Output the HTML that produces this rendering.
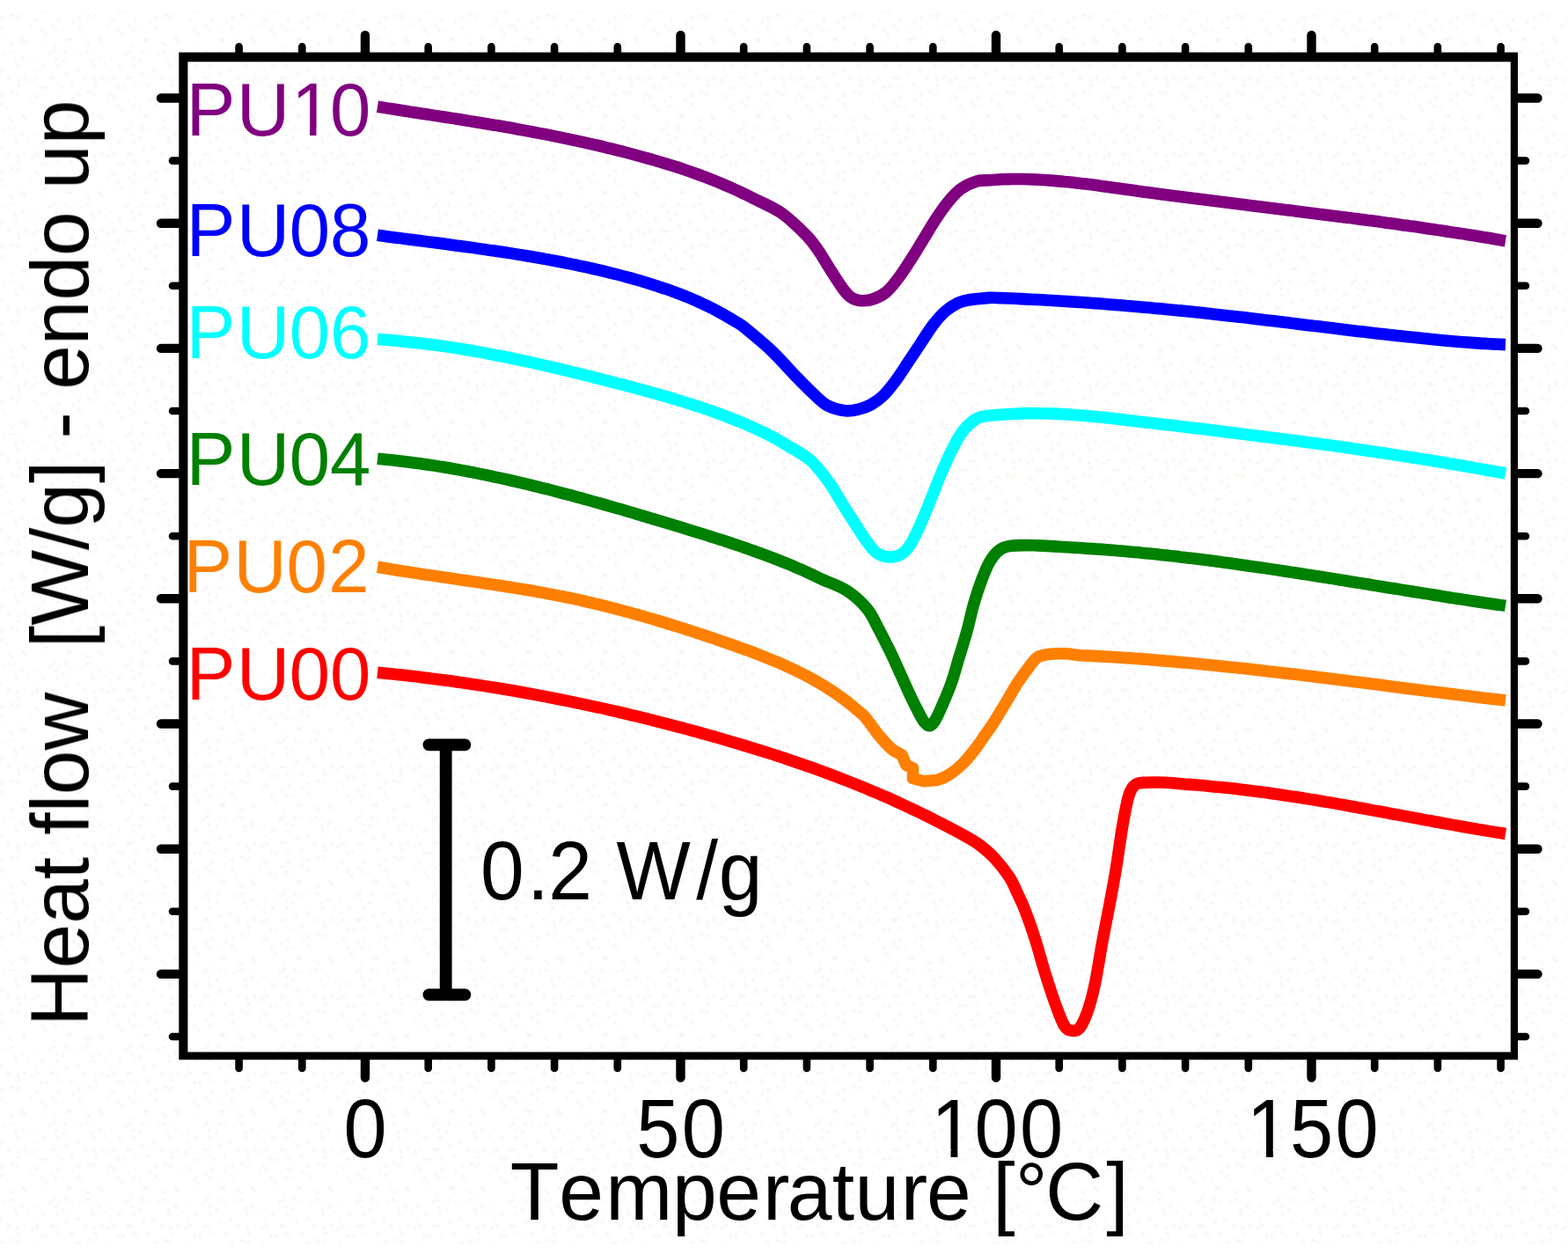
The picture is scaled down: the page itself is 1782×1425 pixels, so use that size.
<!DOCTYPE html>
<html lang="en"><head><meta charset="utf-8"><title>DSC heat flow curves PU00-PU10</title>
<style>
html,body{margin:0;padding:0;background:#fff;}
body{width:1782px;height:1425px;overflow:hidden;}
svg{display:block;}
text{font-family:"Liberation Sans",sans-serif;}
</style></head><body>
<svg width="1782" height="1425" viewBox="0 0 1782 1425">
<defs>
<filter id="soft" x="-2%" y="-2%" width="104%" height="104%"><feGaussianBlur stdDeviation="0.55"/></filter>
<filter id="dsoft" x="0" y="0" width="100%" height="100%"><feGaussianBlur stdDeviation="0.9"/></filter>
<pattern id="dith" width="87" height="87" patternUnits="userSpaceOnUse"><g opacity="0.22"><rect x="8.2" y="0.0" width="2.7" height="2.7" fill="#c9a9c9"/><rect x="19.0" y="2.7" width="2.7" height="2.7" fill="#c9a9c9"/><rect x="27.2" y="0.0" width="2.7" height="2.7" fill="#c9a9c9"/><rect x="35.4" y="2.7" width="2.7" height="2.7" fill="#c9a9c9"/><rect x="40.8" y="0.0" width="2.7" height="2.7" fill="#c9a9c9"/><rect x="57.1" y="0.0" width="2.7" height="2.7" fill="#c9a9c9"/><rect x="59.8" y="0.0" width="2.7" height="2.7" fill="#f2c79a"/><rect x="62.6" y="0.0" width="2.7" height="2.7" fill="#9fe8ee"/><rect x="20.4" y="8.2" width="2.7" height="2.7" fill="#c9a9c9"/><rect x="31.3" y="5.4" width="2.7" height="2.7" fill="#e6f29a"/><rect x="63.9" y="8.2" width="2.7" height="2.7" fill="#f2c79a"/><rect x="80.2" y="8.2" width="2.7" height="2.7" fill="#c9a9c9"/><rect x="46.2" y="10.9" width="2.7" height="2.7" fill="#c9a9c9"/><rect x="51.7" y="10.9" width="2.7" height="2.7" fill="#c9a9c9"/><rect x="68.0" y="10.9" width="2.7" height="2.7" fill="#9fe8ee"/><rect x="1.4" y="19.0" width="2.7" height="2.7" fill="#c9a9c9"/><rect x="12.2" y="16.3" width="2.7" height="2.7" fill="#c9a9c9"/><rect x="15.0" y="16.3" width="2.7" height="2.7" fill="#e6f29a"/><rect x="17.7" y="19.0" width="2.7" height="2.7" fill="#f2c79a"/><rect x="20.4" y="16.3" width="2.7" height="2.7" fill="#f2c79a"/><rect x="36.7" y="19.0" width="2.7" height="2.7" fill="#9fe8ee"/><rect x="83.0" y="19.0" width="2.7" height="2.7" fill="#e6f29a"/><rect x="40.8" y="21.8" width="2.7" height="2.7" fill="#c9a9c9"/><rect x="65.3" y="21.8" width="2.7" height="2.7" fill="#c9a9c9"/><rect x="81.6" y="24.5" width="2.7" height="2.7" fill="#c9a9c9"/><rect x="1.4" y="29.9" width="2.7" height="2.7" fill="#c9a9c9"/><rect x="34.0" y="27.2" width="2.7" height="2.7" fill="#f2c79a"/><rect x="58.5" y="27.2" width="2.7" height="2.7" fill="#c9a9c9"/><rect x="5.4" y="35.4" width="2.7" height="2.7" fill="#9fe8ee"/><rect x="21.8" y="32.6" width="2.7" height="2.7" fill="#e6f29a"/><rect x="46.2" y="32.6" width="2.7" height="2.7" fill="#c9a9c9"/><rect x="62.6" y="32.6" width="2.7" height="2.7" fill="#c9a9c9"/><rect x="65.3" y="32.6" width="2.7" height="2.7" fill="#e6f29a"/><rect x="70.7" y="32.6" width="2.7" height="2.7" fill="#9fe8ee"/><rect x="50.3" y="38.1" width="2.7" height="2.7" fill="#c9a9c9"/><rect x="8.2" y="46.2" width="2.7" height="2.7" fill="#9fe8ee"/><rect x="24.5" y="43.5" width="2.7" height="2.7" fill="#c9a9c9"/><rect x="27.2" y="46.2" width="2.7" height="2.7" fill="#c9a9c9"/><rect x="76.2" y="43.5" width="2.7" height="2.7" fill="#c9a9c9"/><rect x="78.9" y="43.5" width="2.7" height="2.7" fill="#c9a9c9"/><rect x="12.2" y="49.0" width="2.7" height="2.7" fill="#c9a9c9"/><rect x="47.6" y="49.0" width="2.7" height="2.7" fill="#e6f29a"/><rect x="61.2" y="51.7" width="2.7" height="2.7" fill="#9fe8ee"/><rect x="10.9" y="57.1" width="2.7" height="2.7" fill="#c9a9c9"/><rect x="16.3" y="57.1" width="2.7" height="2.7" fill="#e6f29a"/><rect x="59.8" y="57.1" width="2.7" height="2.7" fill="#c9a9c9"/><rect x="73.4" y="57.1" width="2.7" height="2.7" fill="#c9a9c9"/><rect x="4.1" y="59.8" width="2.7" height="2.7" fill="#f2c79a"/><rect x="23.1" y="62.6" width="2.7" height="2.7" fill="#e6f29a"/><rect x="55.8" y="59.8" width="2.7" height="2.7" fill="#c9a9c9"/><rect x="66.6" y="59.8" width="2.7" height="2.7" fill="#e6f29a"/><rect x="74.8" y="59.8" width="2.7" height="2.7" fill="#e6f29a"/><rect x="80.2" y="59.8" width="2.7" height="2.7" fill="#9fe8ee"/><rect x="16.3" y="68.0" width="2.7" height="2.7" fill="#c9a9c9"/><rect x="24.5" y="65.3" width="2.7" height="2.7" fill="#c9a9c9"/><rect x="38.1" y="65.3" width="2.7" height="2.7" fill="#9fe8ee"/><rect x="62.6" y="65.3" width="2.7" height="2.7" fill="#c9a9c9"/><rect x="70.7" y="68.0" width="2.7" height="2.7" fill="#c9a9c9"/><rect x="17.7" y="73.4" width="2.7" height="2.7" fill="#c9a9c9"/><rect x="31.3" y="70.7" width="2.7" height="2.7" fill="#9fe8ee"/><rect x="47.6" y="73.4" width="2.7" height="2.7" fill="#c9a9c9"/><rect x="63.9" y="73.4" width="2.7" height="2.7" fill="#c9a9c9"/><rect x="0.0" y="78.9" width="2.7" height="2.7" fill="#c9a9c9"/><rect x="38.1" y="78.9" width="2.7" height="2.7" fill="#9fe8ee"/><rect x="74.8" y="81.6" width="2.7" height="2.7" fill="#c9a9c9"/></g></pattern>
</defs>
<rect x="0" y="0" width="1782" height="1425" fill="#fff"/>
<rect x="0" y="12" width="1782" height="1402" fill="url(#dith)" filter="url(#dsoft)"/>
<g filter="url(#soft)">
<path d="M203.3 59.5H1725V1204.3H203.3Z M213.4 70.3V1195.5H1716.8V70.3Z" fill="#000" fill-rule="evenodd"/>
<g stroke="#000" stroke-linecap="round" fill="none">
<path stroke-width="10.4" d="M415.0 64.6 V40.0 M415.0 1200.9 V1224.5 M773.5 64.6 V40.0 M773.5 1200.9 V1224.5 M1132.0 64.6 V40.0 M1132.0 1200.9 V1224.5 M1490.5 64.6 V40.0 M1490.5 1200.9 V1224.5 M207.8 111.5 H183.0 M1722.3 111.5 H1747.5 M207.8 253.7 H183.0 M1722.3 253.7 H1747.5 M207.8 395.9 H183.0 M1722.3 395.9 H1747.5 M207.8 538.1 H183.0 M1722.3 538.1 H1747.5 M207.8 680.3 H183.0 M1722.3 680.3 H1747.5 M207.8 822.5 H183.0 M1722.3 822.5 H1747.5 M207.8 964.7 H183.0 M1722.3 964.7 H1747.5 M207.8 1106.9 H183.0 M1722.3 1106.9 H1747.5"/>
<path stroke-width="8.6" d="M271.6 64.6 V53.0 M271.6 1200.9 V1214.0 M343.3 64.6 V53.0 M343.3 1200.9 V1214.0 M486.7 64.6 V53.0 M486.7 1200.9 V1214.0 M558.4 64.6 V53.0 M558.4 1200.9 V1214.0 M630.1 64.6 V53.0 M630.1 1200.9 V1214.0 M701.8 64.6 V53.0 M701.8 1200.9 V1214.0 M845.2 64.6 V53.0 M845.2 1200.9 V1214.0 M916.9 64.6 V53.0 M916.9 1200.9 V1214.0 M988.6 64.6 V53.0 M988.6 1200.9 V1214.0 M1060.3 64.6 V53.0 M1060.3 1200.9 V1214.0 M1203.7 64.6 V53.0 M1203.7 1200.9 V1214.0 M1275.4 64.6 V53.0 M1275.4 1200.9 V1214.0 M1347.1 64.6 V53.0 M1347.1 1200.9 V1214.0 M1418.8 64.6 V53.0 M1418.8 1200.9 V1214.0 M1562.2 64.6 V53.0 M1562.2 1200.9 V1214.0 M1633.9 64.6 V53.0 M1633.9 1200.9 V1214.0 M1705.6 64.6 V53.0 M1705.6 1200.9 V1214.0 M207.8 182.6 H196.0 M1722.3 182.6 H1734.0 M207.8 324.8 H196.0 M1722.3 324.8 H1734.0 M207.8 467.0 H196.0 M1722.3 467.0 H1734.0 M207.8 609.2 H196.0 M1722.3 609.2 H1734.0 M207.8 751.4 H196.0 M1722.3 751.4 H1734.0 M207.8 893.6 H196.0 M1722.3 893.6 H1734.0 M207.8 1035.8 H196.0 M1722.3 1035.8 H1734.0 M207.8 1178.0 H196.0 M1722.3 1178.0 H1734.0"/>
</g>
<g stroke="#000" stroke-width="13.8" fill="none">
<path d="M506.7 846.3 V1130.3"/>
<path d="M487.4 846.3 H528.4 M487.4 1130.3 H528.4" stroke-linecap="round"/>
</g>
<g fill="none" stroke-width="13.6" stroke-linejoin="round" stroke-linecap="butt">
<path stroke="#800080" d="M429.0 121.2 C431.0 121.5 437.1 122.5 441.1 123.1 C445.1 123.7 449.2 124.4 453.2 125.0 C457.2 125.6 461.3 126.2 465.3 126.9 C469.4 127.5 473.4 128.1 477.4 128.7 C481.5 129.4 485.5 130.0 489.5 130.6 C493.6 131.2 497.6 131.9 501.6 132.5 C505.7 133.1 509.7 133.7 513.8 134.4 C517.8 135.0 521.8 135.7 525.9 136.3 C529.9 137.0 533.9 137.6 538.0 138.3 C542.0 138.9 546.0 139.6 550.0 140.2 C554.1 140.9 558.1 141.6 562.1 142.3 C566.2 142.9 570.2 143.6 574.2 144.3 C578.2 145.0 582.3 145.7 586.3 146.5 C590.3 147.2 594.3 147.9 598.3 148.6 C602.3 149.4 606.4 150.1 610.4 150.9 C614.4 151.6 618.4 152.4 622.4 153.2 C626.4 154.0 630.4 154.8 634.4 155.6 C638.4 156.4 642.4 157.2 646.4 158.1 C650.4 158.9 654.4 159.8 658.4 160.6 C662.4 161.5 666.4 162.4 670.4 163.3 C674.4 164.2 678.3 165.1 682.3 166.0 C686.3 167.0 690.3 167.9 694.2 168.9 C698.2 169.9 702.2 170.9 706.1 171.9 C710.1 172.9 714.0 173.9 718.0 175.0 C721.9 176.0 725.9 177.1 729.8 178.2 C733.7 179.3 737.7 180.4 741.6 181.5 C745.5 182.6 749.4 183.8 753.3 185.0 C757.2 186.2 761.1 187.4 765.0 188.6 C768.9 189.8 772.8 191.1 776.7 192.4 C780.6 193.7 784.4 195.0 788.3 196.4 C792.1 197.8 796.0 199.2 799.8 200.6 C803.6 202.0 807.4 203.5 811.2 205.0 C815.0 206.5 818.8 208.1 822.5 209.7 C826.3 211.3 830.0 212.9 833.8 214.6 C837.5 216.3 841.2 218.0 844.9 219.8 C848.5 221.6 848.6 221.6 855.8 225.3 C863.0 229.0 878.0 235.0 888.0 242.0 C898.0 249.0 909.0 259.9 916.0 267.0 C923.0 274.1 925.3 277.9 930.0 284.6 C934.7 291.3 939.3 299.7 944.0 307.0 C948.7 314.3 954.3 323.3 958.3 328.6 C962.3 333.9 964.5 336.4 968.0 338.6 C971.5 340.8 975.3 341.7 979.5 341.8 C983.7 341.9 988.8 341.2 993.4 339.5 C998.0 337.8 1002.7 335.8 1007.4 331.8 C1012.1 327.8 1016.7 321.7 1021.4 315.5 C1026.1 309.3 1030.8 301.8 1035.5 294.5 C1040.2 287.2 1044.8 279.4 1049.5 271.8 C1054.2 264.2 1058.8 256.1 1063.5 249.0 C1068.2 241.9 1072.9 235.0 1077.6 229.3 C1082.3 223.6 1086.2 218.9 1091.6 215.0 C1097.0 211.1 1104.3 207.7 1110.0 206.0 C1115.7 204.3 1121.3 205.1 1126.0 204.7 C1130.6 204.4 1134.0 204.0 1138.0 203.8 C1142.0 203.6 1146.0 203.6 1150.0 203.5 C1154.0 203.5 1158.0 203.5 1162.0 203.5 C1166.0 203.6 1170.1 203.7 1174.1 203.9 C1178.1 204.1 1182.1 204.3 1186.1 204.5 C1190.1 204.8 1194.1 205.1 1198.1 205.4 C1202.1 205.7 1206.1 206.1 1210.1 206.5 C1214.1 206.8 1218.1 207.3 1222.0 207.7 C1226.0 208.1 1230.0 208.6 1234.0 209.1 C1238.0 209.6 1242.0 210.1 1245.9 210.6 C1249.9 211.1 1253.9 211.7 1257.9 212.2 C1261.8 212.7 1265.8 213.3 1269.8 213.8 C1273.8 214.4 1277.7 214.9 1281.7 215.5 C1285.7 216.1 1289.7 216.6 1293.6 217.2 C1297.6 217.7 1301.6 218.2 1305.6 218.8 C1309.5 219.3 1313.5 219.9 1317.5 220.4 C1321.5 220.9 1325.4 221.4 1329.4 222.0 C1333.4 222.5 1337.4 223.0 1341.3 223.5 C1345.3 224.0 1349.3 224.6 1353.3 225.1 C1357.3 225.6 1361.2 226.1 1365.2 226.6 C1369.2 227.1 1373.2 227.6 1377.2 228.1 C1381.1 228.6 1385.1 229.1 1389.1 229.6 C1393.1 230.1 1397.1 230.6 1401.0 231.1 C1405.0 231.6 1409.0 232.1 1413.0 232.6 C1417.0 233.1 1421.0 233.5 1424.9 234.0 C1428.9 234.5 1432.9 235.0 1436.9 235.5 C1440.9 236.0 1444.8 236.5 1448.8 237.0 C1452.8 237.5 1456.8 238.0 1460.8 238.5 C1464.8 238.9 1468.7 239.4 1472.7 239.9 C1476.7 240.4 1480.7 240.9 1484.7 241.4 C1488.6 241.9 1492.6 242.4 1496.6 242.9 C1500.6 243.4 1504.6 243.9 1508.5 244.4 C1512.5 244.9 1516.5 245.4 1520.5 245.9 C1524.5 246.4 1528.4 246.9 1532.4 247.4 C1536.4 248.0 1540.4 248.5 1544.4 249.0 C1548.3 249.5 1552.3 250.0 1556.3 250.6 C1560.3 251.1 1564.2 251.6 1568.2 252.1 C1572.2 252.7 1576.2 253.2 1580.1 253.8 C1584.1 254.3 1588.1 254.9 1592.1 255.4 C1596.0 256.0 1600.0 256.5 1604.0 257.1 C1608.0 257.6 1611.9 258.2 1615.9 258.8 C1619.9 259.4 1623.8 259.9 1627.8 260.5 C1631.8 261.1 1635.7 261.7 1639.7 262.3 C1643.7 262.9 1647.6 263.5 1651.6 264.1 C1655.6 264.7 1659.5 265.3 1663.5 265.9 C1667.5 266.6 1671.4 267.2 1675.4 267.8 C1679.4 268.5 1683.3 269.1 1687.3 269.8 C1691.2 270.4 1695.2 271.1 1699.1 271.8 C1703.1 272.4 1709.0 273.5 1711.0 273.8"/>
<path stroke="#0000ff" d="M429.0 267.3 C431.0 267.6 436.9 268.4 440.9 268.9 C444.9 269.4 448.9 269.9 452.8 270.4 C456.8 271.0 460.8 271.5 464.8 272.0 C468.7 272.5 472.7 273.0 476.7 273.5 C480.7 274.0 484.6 274.5 488.6 275.1 C492.6 275.6 496.6 276.1 500.5 276.6 C504.5 277.1 508.5 277.6 512.4 278.2 C516.4 278.7 520.4 279.2 524.4 279.8 C528.3 280.3 532.3 280.8 536.3 281.4 C540.2 281.9 544.2 282.5 548.2 283.1 C552.1 283.6 556.1 284.2 560.1 284.8 C564.0 285.3 568.0 285.9 572.0 286.5 C575.9 287.1 579.9 287.8 583.9 288.4 C587.8 289.0 591.8 289.6 595.7 290.3 C599.7 290.9 603.6 291.6 607.6 292.3 C611.5 293.0 615.5 293.6 619.4 294.4 C623.4 295.1 627.3 295.8 631.2 296.5 C635.2 297.3 639.1 298.0 643.0 298.8 C647.0 299.6 650.9 300.4 654.8 301.2 C658.7 302.0 662.7 302.8 666.6 303.7 C670.5 304.6 674.4 305.4 678.3 306.3 C682.2 307.2 686.1 308.2 690.0 309.1 C693.9 310.1 697.8 311.0 701.7 312.0 C705.6 313.0 709.4 314.0 713.3 315.1 C717.2 316.1 721.0 317.2 724.9 318.3 C728.7 319.4 732.6 320.6 736.4 321.7 C740.2 322.9 744.1 324.1 747.9 325.4 C751.7 326.6 755.5 327.9 759.2 329.2 C763.0 330.6 766.8 332.0 770.5 333.4 C774.3 334.8 778.0 336.3 781.7 337.8 C785.4 339.3 789.1 340.9 792.8 342.5 C796.4 344.2 800.1 345.9 803.7 347.6 C807.3 349.4 810.8 351.2 814.4 353.0 C817.9 354.9 821.5 356.8 824.9 358.8 C828.4 360.8 831.8 362.9 835.2 365.0 C838.6 367.1 838.2 365.8 845.3 371.6 C852.4 377.4 867.9 390.1 878.0 399.7 C888.1 409.3 897.8 420.9 906.0 429.3 C914.2 437.7 921.2 444.7 927.0 450.0 C932.8 455.3 935.3 458.4 941.0 461.2 C946.7 464.0 955.1 466.2 961.0 466.8 C966.9 467.4 971.4 466.2 976.3 465.0 C981.2 463.8 985.7 462.2 990.4 459.5 C995.1 456.8 999.7 453.6 1004.4 449.0 C1009.1 444.4 1013.7 438.3 1018.4 432.0 C1023.1 425.7 1027.8 418.0 1032.5 411.0 C1037.2 404.0 1041.8 397.0 1046.5 390.0 C1051.2 383.0 1055.9 375.1 1060.6 369.0 C1065.3 362.9 1069.9 357.6 1074.6 353.5 C1079.3 349.4 1084.4 346.5 1088.6 344.4 C1092.8 342.3 1094.1 342.0 1100.0 341.0 C1105.9 340.0 1118.0 338.9 1124.0 338.4 C1130.0 338.0 1132.0 338.5 1136.0 338.6 C1140.1 338.7 1144.1 338.9 1148.1 339.0 C1152.1 339.2 1156.1 339.4 1160.1 339.6 C1164.1 339.8 1168.1 340.0 1172.1 340.2 C1176.1 340.4 1180.1 340.6 1184.1 340.8 C1188.1 341.0 1192.1 341.2 1196.1 341.5 C1200.1 341.7 1204.1 342.0 1208.2 342.2 C1212.2 342.5 1216.2 342.7 1220.2 343.0 C1224.2 343.2 1228.2 343.5 1232.2 343.8 C1236.2 344.1 1240.2 344.4 1244.2 344.6 C1248.2 344.9 1252.2 345.2 1256.2 345.5 C1260.2 345.9 1264.2 346.2 1268.2 346.5 C1272.2 346.8 1276.2 347.1 1280.2 347.5 C1284.2 347.8 1288.1 348.1 1292.1 348.5 C1296.1 348.8 1300.1 349.2 1304.1 349.5 C1308.1 349.9 1312.1 350.3 1316.1 350.6 C1320.1 351.0 1324.1 351.4 1328.1 351.8 C1332.1 352.1 1336.1 352.5 1340.1 352.9 C1344.1 353.3 1348.1 353.7 1352.0 354.1 C1356.0 354.5 1360.0 354.9 1364.0 355.3 C1368.0 355.8 1372.0 356.2 1376.0 356.6 C1380.0 357.0 1384.0 357.5 1387.9 357.9 C1391.9 358.4 1395.9 358.8 1399.9 359.2 C1403.9 359.7 1407.9 360.1 1411.9 360.6 C1415.8 361.1 1419.8 361.5 1423.8 362.0 C1427.8 362.5 1431.8 362.9 1435.8 363.4 C1439.7 363.9 1443.7 364.4 1447.7 364.8 C1451.7 365.3 1455.7 365.8 1459.7 366.3 C1463.6 366.8 1467.6 367.2 1471.6 367.7 C1475.6 368.2 1479.6 368.7 1483.5 369.2 C1487.5 369.7 1491.5 370.2 1495.5 370.6 C1499.5 371.1 1503.4 371.6 1507.4 372.1 C1511.4 372.6 1515.4 373.1 1519.4 373.5 C1523.4 374.0 1527.3 374.5 1531.3 375.0 C1535.3 375.5 1539.3 375.9 1543.3 376.4 C1547.3 376.9 1551.2 377.3 1555.2 377.8 C1559.2 378.3 1563.2 378.7 1567.2 379.2 C1571.2 379.6 1575.1 380.1 1579.1 380.5 C1583.1 381.0 1587.1 381.4 1591.1 381.8 C1595.1 382.3 1599.1 382.7 1603.1 383.1 C1607.0 383.5 1611.0 383.9 1615.0 384.3 C1619.0 384.7 1623.0 385.1 1627.0 385.5 C1631.0 385.9 1635.0 386.3 1639.0 386.7 C1643.0 387.0 1647.0 387.4 1651.0 387.7 C1655.0 388.1 1659.0 388.4 1663.0 388.7 C1667.0 389.0 1671.0 389.3 1675.0 389.6 C1679.0 389.9 1683.0 390.2 1687.0 390.4 C1691.0 390.6 1695.0 390.9 1699.0 391.1 C1703.0 391.3 1709.0 391.5 1711.0 391.6"/>
<path stroke="#00ffff" d="M429.0 385.5 C431.0 385.6 437.1 386.1 441.1 386.4 C445.2 386.7 449.2 387.1 453.2 387.4 C457.3 387.8 461.3 388.2 465.4 388.7 C469.4 389.1 473.4 389.5 477.4 390.0 C481.5 390.5 485.5 391.0 489.5 391.5 C493.5 392.0 497.6 392.6 501.6 393.1 C505.6 393.7 509.6 394.3 513.6 394.9 C517.6 395.5 521.6 396.1 525.6 396.8 C529.6 397.5 533.6 398.1 537.6 398.8 C541.6 399.5 545.6 400.2 549.6 400.9 C553.6 401.7 557.6 402.4 561.5 403.2 C565.5 403.9 569.5 404.7 573.5 405.5 C577.5 406.3 581.4 407.1 585.4 408.0 C589.4 408.8 593.3 409.6 597.3 410.5 C601.3 411.3 605.2 412.2 609.2 413.1 C613.1 414.0 617.1 414.9 621.0 415.8 C625.0 416.7 628.9 417.6 632.9 418.5 C636.8 419.4 640.8 420.4 644.7 421.3 C648.7 422.3 652.6 423.2 656.5 424.2 C660.5 425.2 664.4 426.2 668.4 427.1 C672.3 428.1 676.2 429.1 680.1 430.1 C684.1 431.1 688.0 432.1 691.9 433.1 C695.9 434.1 699.8 435.1 703.7 436.2 C707.6 437.2 711.6 438.2 715.5 439.2 C719.4 440.3 723.3 441.3 727.2 442.4 C731.2 443.4 735.1 444.5 739.0 445.6 C742.9 446.6 746.8 447.7 750.7 448.8 C754.6 450.0 758.5 451.1 762.4 452.2 C766.3 453.4 770.1 454.5 774.0 455.7 C777.9 456.9 781.8 458.1 785.6 459.4 C789.5 460.6 793.3 461.9 797.2 463.1 C801.0 464.4 804.9 465.7 808.7 467.1 C812.5 468.4 816.3 469.8 820.1 471.2 C823.9 472.7 827.7 474.1 831.5 475.6 C835.3 477.1 839.0 478.6 842.8 480.1 C846.5 481.7 850.2 483.3 853.9 484.9 C857.7 486.6 861.3 488.3 865.0 490.0 C868.7 491.8 872.3 493.6 875.9 495.4 C879.5 497.3 883.1 499.2 886.6 501.3 C890.1 503.3 891.2 504.0 897.0 507.6 C902.7 511.2 913.5 516.3 921.0 523.0 C928.5 529.7 936.2 540.1 942.0 548.0 C947.8 555.9 951.3 562.9 956.0 570.3 C960.7 577.7 965.3 585.2 970.0 592.5 C974.7 599.8 979.8 607.9 984.0 613.8 C988.2 619.6 991.2 624.4 995.5 627.6 C999.8 630.8 1004.8 632.6 1009.5 633.0 C1014.2 633.4 1019.3 632.6 1023.5 630.2 C1027.7 627.8 1031.0 624.1 1034.8 618.4 C1038.5 612.7 1042.3 604.2 1046.0 596.0 C1049.7 587.8 1053.5 578.5 1057.2 569.3 C1060.9 560.1 1064.7 549.9 1068.4 541.0 C1072.2 532.1 1076.0 523.5 1079.7 515.8 C1083.5 508.1 1087.2 500.5 1090.9 494.8 C1094.6 489.1 1097.5 485.2 1102.0 481.6 C1106.5 478.0 1107.8 475.2 1117.6 473.2 C1127.4 471.2 1151.5 470.4 1160.7 469.9 C1169.9 469.3 1168.8 469.7 1172.8 469.7 C1176.8 469.6 1180.8 469.7 1184.9 469.8 C1188.9 469.8 1192.9 470.0 1196.9 470.1 C1200.9 470.3 1205.0 470.5 1209.0 470.7 C1213.0 471.0 1217.0 471.2 1221.0 471.5 C1225.0 471.8 1229.0 472.2 1233.0 472.5 C1237.0 472.9 1241.0 473.2 1245.1 473.6 C1249.1 474.0 1253.1 474.4 1257.1 474.8 C1261.1 475.3 1265.0 475.7 1269.0 476.1 C1273.0 476.6 1277.0 477.0 1281.0 477.5 C1285.0 477.9 1289.0 478.4 1293.0 478.9 C1297.0 479.3 1301.0 479.8 1305.0 480.3 C1309.0 480.7 1313.0 481.2 1317.0 481.7 C1321.0 482.1 1325.0 482.6 1329.0 483.1 C1333.0 483.5 1337.0 484.0 1340.9 484.5 C1344.9 484.9 1348.9 485.4 1352.9 485.9 C1356.9 486.4 1360.9 486.8 1364.9 487.3 C1368.9 487.8 1372.9 488.3 1376.9 488.8 C1380.9 489.2 1384.9 489.7 1388.9 490.2 C1392.8 490.7 1396.8 491.2 1400.8 491.7 C1404.8 492.2 1408.8 492.7 1412.8 493.2 C1416.8 493.7 1420.8 494.2 1424.8 494.7 C1428.8 495.2 1432.8 495.7 1436.7 496.2 C1440.7 496.7 1444.7 497.2 1448.7 497.7 C1452.7 498.2 1456.7 498.7 1460.7 499.3 C1464.7 499.8 1468.6 500.3 1472.6 500.8 C1476.6 501.4 1480.6 501.9 1484.6 502.4 C1488.6 503.0 1492.6 503.5 1496.5 504.0 C1500.5 504.6 1504.5 505.1 1508.5 505.7 C1512.5 506.2 1516.5 506.8 1520.4 507.3 C1524.4 507.9 1528.4 508.5 1532.4 509.0 C1536.4 509.6 1540.4 510.2 1544.3 510.7 C1548.3 511.3 1552.3 511.9 1556.3 512.5 C1560.2 513.1 1564.2 513.7 1568.2 514.3 C1572.2 514.9 1576.2 515.4 1580.1 516.1 C1584.1 516.7 1588.1 517.3 1592.1 517.9 C1596.0 518.5 1600.0 519.1 1604.0 519.7 C1607.9 520.4 1611.9 521.0 1615.9 521.6 C1619.9 522.3 1623.8 522.9 1627.8 523.5 C1631.8 524.2 1635.7 524.8 1639.7 525.5 C1643.7 526.2 1647.6 526.8 1651.6 527.5 C1655.6 528.2 1659.5 528.8 1663.5 529.5 C1667.5 530.2 1671.4 530.9 1675.4 531.6 C1679.3 532.3 1683.3 533.0 1687.3 533.7 C1691.2 534.4 1695.2 535.1 1699.1 535.8 C1703.1 536.5 1709.0 537.6 1711.0 538.0"/>
<path stroke="#008000" d="M429.0 521.2 C431.0 521.4 437.1 522.0 441.2 522.4 C445.2 522.8 449.3 523.2 453.3 523.7 C457.4 524.2 461.4 524.7 465.5 525.2 C469.5 525.7 473.5 526.2 477.6 526.8 C481.6 527.4 485.7 528.0 489.7 528.6 C493.7 529.2 497.7 529.8 501.8 530.5 C505.8 531.1 509.8 531.8 513.8 532.5 C517.8 533.2 521.8 533.9 525.9 534.6 C529.9 535.4 533.9 536.1 537.9 536.9 C541.9 537.7 545.9 538.5 549.9 539.3 C553.9 540.1 557.8 540.9 561.8 541.8 C565.8 542.6 569.8 543.5 573.8 544.4 C577.8 545.3 581.7 546.2 585.7 547.1 C589.7 548.0 593.6 548.9 597.6 549.9 C601.6 550.8 605.5 551.8 609.5 552.8 C613.4 553.7 617.4 554.7 621.4 555.7 C625.3 556.7 629.3 557.8 633.2 558.8 C637.1 559.8 641.1 560.8 645.0 561.9 C649.0 562.9 652.9 564.0 656.8 565.1 C660.8 566.1 664.7 567.2 668.6 568.3 C672.5 569.4 676.5 570.5 680.4 571.6 C684.3 572.7 688.2 573.8 692.2 575.0 C696.1 576.1 700.0 577.2 703.9 578.3 C707.8 579.5 711.7 580.6 715.6 581.8 C719.6 582.9 723.5 584.1 727.4 585.2 C731.3 586.4 735.2 587.6 739.1 588.7 C743.0 589.9 746.9 591.1 750.8 592.2 C754.7 593.4 758.6 594.6 762.5 595.8 C766.4 597.0 770.3 598.1 774.2 599.3 C778.1 600.5 782.0 601.7 785.9 602.9 C789.8 604.1 793.7 605.3 797.6 606.5 C801.5 607.7 805.4 608.9 809.2 610.2 C813.1 611.4 817.0 612.6 820.9 613.9 C824.8 615.2 828.6 616.4 832.5 617.7 C836.4 619.0 840.2 620.3 844.1 621.6 C847.9 623.0 851.8 624.3 855.6 625.7 C859.5 627.0 863.3 628.4 867.1 629.8 C871.0 631.2 874.8 632.7 878.6 634.1 C882.4 635.6 886.2 637.1 889.9 638.6 C893.7 640.2 897.5 641.7 901.2 643.3 C905.0 644.9 908.7 646.5 912.5 648.1 C916.2 649.8 919.9 651.5 923.6 653.2 C927.3 654.9 928.1 655.5 934.6 658.5 C941.1 661.5 954.2 665.8 962.7 671.4 C971.2 677.0 979.5 684.5 985.5 691.9 C991.5 699.2 994.7 707.5 999.0 715.5 C1003.3 723.5 1007.5 731.8 1011.5 740.0 C1015.5 748.2 1019.2 756.6 1023.0 765.0 C1026.8 773.4 1031.0 783.0 1034.5 790.4 C1038.0 797.8 1041.4 804.6 1044.0 809.5 C1046.6 814.4 1048.0 817.5 1050.0 820.0 C1052.0 822.5 1053.9 824.7 1055.8 824.8 C1057.7 824.9 1059.5 823.3 1061.5 820.5 C1063.5 817.7 1064.8 815.1 1068.0 808.0 C1071.2 800.9 1076.8 788.2 1080.5 778.0 C1084.2 767.8 1086.9 757.2 1090.0 747.0 C1093.1 736.8 1096.2 727.2 1099.0 717.0 C1101.8 706.8 1104.0 695.5 1106.8 685.8 C1109.6 676.0 1112.9 666.5 1115.9 658.5 C1118.9 650.5 1121.7 643.5 1125.0 638.0 C1128.3 632.5 1131.6 628.2 1135.6 625.2 C1139.6 622.2 1142.6 621.2 1149.2 620.3 C1155.8 619.4 1163.0 619.4 1175.0 619.8 C1187.0 620.2 1211.7 621.9 1221.5 622.4 C1231.2 622.9 1229.5 622.8 1233.5 623.1 C1237.5 623.3 1241.5 623.6 1245.5 623.9 C1249.5 624.1 1253.6 624.4 1257.6 624.7 C1261.6 625.0 1265.6 625.3 1269.6 625.7 C1273.6 626.0 1277.6 626.3 1281.6 626.7 C1285.6 627.0 1289.6 627.4 1293.6 627.8 C1297.6 628.2 1301.6 628.6 1305.6 629.0 C1309.6 629.4 1313.6 629.8 1317.6 630.2 C1321.6 630.6 1325.6 631.0 1329.6 631.5 C1333.6 631.9 1337.5 632.4 1341.5 632.9 C1345.5 633.3 1349.5 633.8 1353.5 634.3 C1357.5 634.8 1361.5 635.3 1365.5 635.8 C1369.5 636.3 1373.4 636.8 1377.4 637.3 C1381.4 637.8 1385.4 638.3 1389.4 638.9 C1393.4 639.4 1397.3 639.9 1401.3 640.5 C1405.3 641.0 1409.3 641.6 1413.3 642.2 C1417.2 642.7 1421.2 643.3 1425.2 643.9 C1429.2 644.4 1433.1 645.0 1437.1 645.6 C1441.1 646.2 1445.1 646.8 1449.0 647.4 C1453.0 648.0 1457.0 648.6 1460.9 649.2 C1464.9 649.8 1468.9 650.4 1472.9 651.0 C1476.8 651.6 1480.8 652.2 1484.8 652.9 C1488.7 653.5 1492.7 654.1 1496.7 654.7 C1500.6 655.4 1504.6 656.0 1508.6 656.6 C1512.5 657.3 1516.5 657.9 1520.5 658.5 C1524.4 659.2 1528.4 659.8 1532.4 660.5 C1536.3 661.1 1540.3 661.7 1544.3 662.4 C1548.2 663.0 1552.2 663.7 1556.2 664.3 C1560.1 665.0 1564.1 665.6 1568.1 666.3 C1572.0 666.9 1576.0 667.5 1580.0 668.2 C1583.9 668.8 1587.9 669.5 1591.9 670.1 C1595.8 670.7 1599.8 671.4 1603.8 672.0 C1607.7 672.7 1611.7 673.3 1615.7 673.9 C1619.6 674.6 1623.6 675.2 1627.6 675.8 C1631.5 676.5 1635.5 677.1 1639.5 677.7 C1643.4 678.3 1647.4 678.9 1651.4 679.6 C1655.4 680.2 1659.3 680.8 1663.3 681.4 C1667.3 682.0 1671.2 682.6 1675.2 683.2 C1679.2 683.8 1683.2 684.4 1687.1 685.0 C1691.1 685.5 1695.1 686.1 1699.1 686.7 C1703.0 687.3 1709.0 688.1 1711.0 688.4"/>
<path stroke="#ff8000" d="M429.0 644.2 C431.0 644.5 436.9 645.6 440.8 646.2 C444.8 646.9 448.7 647.5 452.7 648.2 C456.6 648.8 460.6 649.4 464.5 650.0 C468.5 650.7 472.4 651.3 476.4 651.9 C480.4 652.5 484.3 653.1 488.3 653.6 C492.2 654.2 496.2 654.8 500.2 655.4 C504.1 656.0 508.1 656.6 512.0 657.1 C516.0 657.7 520.0 658.3 523.9 658.9 C527.9 659.4 531.8 660.0 535.8 660.6 C539.7 661.2 543.7 661.8 547.7 662.4 C551.6 662.9 555.6 663.5 559.5 664.1 C563.5 664.7 567.4 665.4 571.4 666.0 C575.4 666.6 579.3 667.2 583.3 667.9 C587.2 668.5 591.2 669.1 595.1 669.8 C599.0 670.5 603.0 671.1 606.9 671.8 C610.9 672.5 614.8 673.2 618.8 673.9 C622.7 674.7 626.6 675.4 630.5 676.2 C634.5 676.9 638.4 677.7 642.3 678.5 C646.2 679.3 650.2 680.1 654.1 680.9 C658.0 681.8 661.9 682.7 665.8 683.5 C669.7 684.4 673.6 685.3 677.5 686.3 C681.4 687.2 685.3 688.2 689.2 689.1 C693.0 690.1 696.9 691.1 700.8 692.1 C704.7 693.1 708.5 694.1 712.4 695.2 C716.2 696.2 720.1 697.3 724.0 698.4 C727.8 699.5 731.7 700.6 735.5 701.7 C739.3 702.8 743.2 703.9 747.0 705.1 C750.8 706.2 754.7 707.4 758.5 708.6 C762.3 709.7 766.1 710.9 770.0 712.1 C773.8 713.3 777.6 714.5 781.4 715.8 C785.2 717.0 789.0 718.2 792.8 719.5 C796.6 720.7 800.4 722.0 804.2 723.3 C808.0 724.5 811.8 725.8 815.6 727.1 C819.4 728.4 823.2 729.7 826.9 731.0 C830.7 732.3 834.5 733.6 838.3 735.0 C842.0 736.3 845.8 737.7 849.6 739.0 C853.3 740.4 857.1 741.8 860.8 743.3 C864.5 744.7 868.3 746.2 872.0 747.7 C875.7 749.2 879.4 750.7 883.1 752.3 C886.7 753.8 890.4 755.4 894.0 757.1 C897.7 758.8 901.3 760.5 904.9 762.2 C908.5 764.0 912.1 765.7 915.6 767.6 C919.2 769.5 922.7 771.4 926.2 773.3 C929.7 775.3 933.1 777.3 936.5 779.4 C939.9 781.5 943.3 783.7 946.6 785.9 C950.0 788.1 953.3 790.4 956.5 792.8 C959.7 795.1 962.9 797.5 966.0 800.0 C969.1 802.5 972.2 805.1 975.2 807.8 C978.2 810.4 979.9 811.0 984.0 815.9 C988.2 820.8 994.8 830.9 1000.0 837.0 C1005.2 843.1 1010.8 849.0 1015.0 852.5 L1025.0 858.0 L1030.0 869.5 L1037.5 873.0 L1037.5 884.5 L1050.0 887.8 L1065.0 886.5 C1070.0 885.1 1075.0 882.8 1080.0 879.5 C1085.0 876.2 1090.2 871.8 1095.0 867.0 C1099.8 862.2 1104.6 855.9 1108.8 850.5 C1113.0 845.1 1116.7 839.2 1120.0 834.5 C1123.3 829.8 1124.7 828.3 1128.4 822.5 C1132.2 816.7 1137.8 807.2 1142.5 799.5 C1147.2 791.8 1151.8 783.2 1156.5 776.0 C1161.2 768.8 1166.8 761.3 1170.6 756.5 C1174.3 751.7 1175.5 749.2 1179.0 747.0 C1182.5 744.8 1186.4 744.1 1191.6 743.4 C1196.8 742.7 1203.9 742.6 1210.0 742.8 C1216.1 743.0 1223.0 744.3 1228.0 744.7 C1233.0 745.1 1236.1 745.1 1240.1 745.3 C1244.2 745.5 1248.2 745.7 1252.3 745.9 C1256.3 746.2 1260.4 746.4 1264.4 746.6 C1268.4 746.9 1272.5 747.1 1276.5 747.4 C1280.6 747.7 1284.6 747.9 1288.6 748.2 C1292.7 748.5 1296.7 748.8 1300.8 749.1 C1304.8 749.4 1308.8 749.7 1312.9 750.1 C1316.9 750.4 1320.9 750.7 1325.0 751.1 C1329.0 751.4 1333.0 751.7 1337.1 752.1 C1341.1 752.4 1345.1 752.8 1349.2 753.2 C1353.2 753.6 1357.2 753.9 1361.3 754.3 C1365.3 754.7 1369.3 755.1 1373.3 755.5 C1377.4 755.9 1381.4 756.3 1385.4 756.7 C1389.5 757.1 1393.5 757.5 1397.5 758.0 C1401.5 758.4 1405.6 758.8 1409.6 759.2 C1413.6 759.7 1417.6 760.1 1421.7 760.6 C1425.7 761.0 1429.7 761.5 1433.7 761.9 C1437.8 762.4 1441.8 762.8 1445.8 763.3 C1449.8 763.8 1453.8 764.2 1457.9 764.7 C1461.9 765.2 1465.9 765.7 1469.9 766.1 C1473.9 766.6 1478.0 767.1 1482.0 767.6 C1486.0 768.1 1490.0 768.6 1494.0 769.0 C1498.1 769.5 1502.1 770.0 1506.1 770.5 C1510.1 771.0 1514.1 771.5 1518.2 772.0 C1522.2 772.5 1526.2 773.0 1530.2 773.5 C1534.2 774.0 1538.2 774.6 1542.3 775.1 C1546.3 775.6 1550.3 776.1 1554.3 776.6 C1558.3 777.1 1562.3 777.6 1566.4 778.1 C1570.4 778.6 1574.4 779.1 1578.4 779.7 C1582.4 780.2 1586.4 780.7 1590.4 781.2 C1594.5 781.7 1598.5 782.2 1602.5 782.7 C1606.5 783.2 1610.5 783.7 1614.5 784.2 C1618.6 784.8 1622.6 785.3 1626.6 785.8 C1630.6 786.3 1634.6 786.8 1638.6 787.3 C1642.7 787.8 1646.7 788.3 1650.7 788.8 C1654.7 789.3 1658.7 789.8 1662.8 790.3 C1666.8 790.7 1670.8 791.2 1674.8 791.7 C1678.8 792.2 1682.9 792.7 1686.9 793.2 C1690.9 793.6 1694.9 794.1 1698.9 794.6 C1703.0 795.1 1709.0 795.8 1711.0 796.0"/>
<path stroke="#ff0000" d="M429.0 764.3 C431.0 764.5 437.1 765.1 441.1 765.5 C445.1 765.9 449.2 766.3 453.2 766.7 C457.2 767.2 461.2 767.6 465.3 768.1 C469.3 768.5 473.3 769.0 477.4 769.5 C481.4 770.0 485.4 770.4 489.4 771.0 C493.4 771.5 497.5 772.0 501.5 772.5 C505.5 773.0 509.5 773.6 513.5 774.1 C517.5 774.7 521.6 775.2 525.6 775.8 C529.6 776.4 533.6 777.0 537.6 777.6 C541.6 778.2 545.6 778.8 549.6 779.4 C553.6 780.0 557.6 780.7 561.6 781.3 C565.6 782.0 569.6 782.6 573.6 783.3 C577.6 784.0 581.6 784.6 585.6 785.3 C589.6 786.0 593.6 786.7 597.6 787.5 C601.6 788.2 605.5 788.9 609.5 789.6 C613.5 790.4 617.5 791.1 621.5 791.9 C625.5 792.7 629.4 793.4 633.4 794.2 C637.4 795.0 641.4 795.8 645.3 796.6 C649.3 797.4 653.3 798.2 657.2 799.1 C661.2 799.9 665.2 800.7 669.1 801.6 C673.1 802.4 677.1 803.3 681.0 804.2 C685.0 805.0 688.9 805.9 692.9 806.8 C696.8 807.7 700.8 808.6 704.7 809.5 C708.7 810.5 712.6 811.4 716.6 812.3 C720.5 813.3 724.4 814.2 728.4 815.2 C732.3 816.1 736.2 817.1 740.2 818.1 C744.1 819.1 748.0 820.1 752.0 821.1 C755.9 822.1 759.8 823.1 763.7 824.1 C767.7 825.1 771.6 826.2 775.5 827.2 C779.4 828.3 783.3 829.3 787.2 830.4 C791.1 831.4 795.0 832.5 799.0 833.6 C802.9 834.7 806.8 835.8 810.7 836.9 C814.6 838.0 818.4 839.1 822.3 840.2 C826.2 841.4 830.1 842.5 834.0 843.7 C837.9 844.8 841.8 846.0 845.7 847.1 C849.5 848.3 853.4 849.5 857.3 850.7 C861.2 851.9 865.0 853.1 868.9 854.3 C872.8 855.5 876.6 856.8 880.5 858.0 C884.3 859.3 888.2 860.5 892.0 861.8 C895.9 863.1 899.7 864.4 903.5 865.7 C907.4 867.0 911.2 868.3 915.0 869.7 C918.9 871.0 922.7 872.3 926.5 873.7 C930.3 875.1 934.1 876.5 937.9 877.9 C941.7 879.3 945.5 880.7 949.3 882.1 C953.1 883.6 956.9 885.0 960.7 886.5 C964.4 888.0 968.2 889.5 972.0 891.0 C975.7 892.5 979.5 894.0 983.2 895.5 C987.0 897.1 990.7 898.7 994.4 900.2 C998.2 901.8 1001.9 903.4 1005.6 905.1 C1009.3 906.7 1013.0 908.3 1016.7 910.0 C1020.4 911.7 1024.1 913.4 1027.8 915.1 C1031.4 916.8 1035.1 918.5 1038.7 920.3 C1042.4 922.0 1046.0 923.8 1049.7 925.6 C1053.3 927.4 1052.7 927.0 1060.5 931.1 C1068.4 935.1 1087.9 945.1 1096.8 950.0 C1105.7 954.9 1108.1 956.2 1113.7 960.5 C1119.3 964.8 1124.9 969.4 1130.5 975.5 C1136.1 981.6 1143.2 990.6 1147.4 997.0 C1151.6 1003.4 1152.9 1007.9 1155.8 1014.0 C1158.7 1020.1 1161.1 1024.6 1164.6 1033.5 C1168.0 1042.4 1172.7 1055.6 1176.5 1067.5 C1180.3 1079.4 1183.6 1092.5 1187.5 1105.0 C1191.4 1117.5 1196.2 1132.3 1200.0 1142.5 C1203.8 1152.7 1206.9 1161.5 1210.0 1166.3 C1213.1 1171.1 1215.9 1171.1 1218.8 1171.3 C1221.7 1171.5 1224.4 1171.9 1227.5 1167.5 C1230.6 1163.1 1234.6 1153.8 1237.5 1145.0 C1240.4 1136.2 1242.5 1127.2 1245.0 1115.0 C1247.5 1102.8 1249.8 1086.5 1252.5 1072.0 C1255.2 1057.5 1258.4 1042.0 1261.0 1028.0 C1263.6 1014.0 1265.8 1002.7 1268.2 988.0 C1270.6 973.3 1273.2 953.5 1275.5 940.0 C1277.8 926.5 1280.1 914.5 1282.0 907.0 C1283.9 899.5 1285.2 897.8 1287.0 895.0 C1288.8 892.2 1290.5 891.2 1293.0 890.3 C1295.5 889.3 1296.7 889.5 1302.0 889.3 C1307.3 889.1 1316.9 888.9 1325.0 889.3 C1333.1 889.7 1344.3 890.9 1350.6 891.4 C1356.9 891.9 1358.7 892.0 1362.7 892.3 C1366.8 892.7 1370.8 893.0 1374.9 893.4 C1378.9 893.7 1382.9 894.1 1387.0 894.5 C1391.0 894.9 1395.0 895.3 1399.1 895.8 C1403.1 896.2 1407.1 896.7 1411.1 897.2 C1415.2 897.6 1419.2 898.1 1423.2 898.7 C1427.2 899.2 1431.3 899.7 1435.3 900.2 C1439.3 900.8 1443.3 901.3 1447.3 901.9 C1451.3 902.5 1455.4 903.1 1459.4 903.7 C1463.4 904.3 1467.4 904.9 1471.4 905.5 C1475.4 906.1 1479.4 906.7 1483.4 907.4 C1487.4 908.0 1491.4 908.7 1495.4 909.3 C1499.4 910.0 1503.4 910.7 1507.4 911.4 C1511.4 912.0 1515.4 912.7 1519.4 913.4 C1523.4 914.1 1527.4 914.8 1531.4 915.5 C1535.4 916.2 1539.4 916.9 1543.3 917.7 C1547.3 918.4 1551.3 919.1 1555.3 919.8 C1559.3 920.6 1563.3 921.3 1567.3 922.0 C1571.3 922.8 1575.3 923.5 1579.2 924.2 C1583.2 925.0 1587.2 925.7 1591.2 926.4 C1595.2 927.2 1599.2 927.9 1603.2 928.6 C1607.2 929.4 1611.1 930.1 1615.1 930.8 C1619.1 931.6 1623.1 932.3 1627.1 933.0 C1631.1 933.8 1635.1 934.5 1639.1 935.2 C1643.0 935.9 1647.0 936.7 1651.0 937.4 C1655.0 938.1 1659.0 938.8 1663.0 939.5 C1667.0 940.2 1671.0 940.9 1675.0 941.6 C1679.0 942.3 1683.0 942.9 1687.0 943.6 C1691.0 944.3 1695.0 944.9 1699.0 945.6 C1703.0 946.2 1709.0 947.2 1711.0 947.5"/>
</g>
<clipPath id="cPU10"><path clip-rule="evenodd" d="M-400 -400H1200V400H-400Z M126.20 -7.72H144.35V2.57H126.20Z M151.93 -7.72H169.10V2.57H151.93Z"/></clipPath>
<text transform="translate(211.8 154.3) scale(0.9720 1)" font-size="85.8" fill="#800080" clip-path="url(#cPU10)" x="0.00 58.74 122.77 167.90">PU10</text>
<text transform="translate(211.8 290.8) scale(0.9720 1)" font-size="85.8" fill="#0000ff" x="0.00 58.74 120.37 167.90">PU08</text>
<text transform="translate(211.8 407.3) scale(0.9720 1)" font-size="85.8" fill="#00ffff" x="0.00 58.74 120.37 167.90">PU06</text>
<text transform="translate(211.8 550.8) scale(0.9720 1)" font-size="85.8" fill="#008000" x="0.00 58.74 120.37 167.90">PU04</text>
<text transform="translate(208.4 673.3) scale(0.9720 1)" font-size="85.8" fill="#ff8000" x="0.00 58.74 120.37 169.55">PU02</text>
<text transform="translate(211.8 794.5) scale(0.9720 1)" font-size="85.8" fill="#ff0000" x="0.00 58.74 120.37 167.90">PU00</text>
<g fill="#000">
<text transform="translate(546.0 1021.5) scale(0.9400 1)" font-size="95.0" x="0.00 56.34 82.29 135.11 164.28 260.97 288.01">0.2 W/g</text>
<text transform="translate(415.0 1314.5) scale(0.9400 1)" font-size="94.0" x="-26.13">0</text>
<text transform="translate(773.5 1314.5) scale(0.9400 1)" font-size="94.0" x="-53.58 1.31">50</text>
<clipPath id="c100"><path clip-rule="evenodd" d="M-400 -400H1200V400H-400Z M-74.63 -8.46H-54.75V2.82H-74.63Z M-46.45 -8.46H-27.63V2.82H-46.45Z"/></clipPath>
<text transform="translate(1132.0 1314.5) scale(0.9400 1)" font-size="94.0" clip-path="url(#c100)" x="-78.39 -26.13 28.76">100</text>
<clipPath id="c150"><path clip-rule="evenodd" d="M-400 -400H1200V400H-400Z M-74.63 -8.46H-54.75V2.82H-74.63Z M-46.45 -8.46H-27.63V2.82H-46.45Z"/></clipPath>
<text transform="translate(1490.5 1314.5) scale(0.9400 1)" font-size="94.0" clip-path="url(#c150)" x="-78.39 -26.13 28.76">150</text>
<text transform="translate(579.8 1385.5) scale(0.9800 1)" font-size="93.0" x="0.00 56.69 110.65 187.87 239.29 293.10 321.26 373.48 399.65 452.95 482.76 534.47 559.60 585.84 620.77 691.17">Temperature [°C]</text>
<text transform="translate(100.0 1166.3) rotate(-90) scale(0.9897 1)" font-size="92.0" xml:space="preserve">Heat flow  [W/g] - endo up</text>
</g>
</g>
</svg>
</body></html>
